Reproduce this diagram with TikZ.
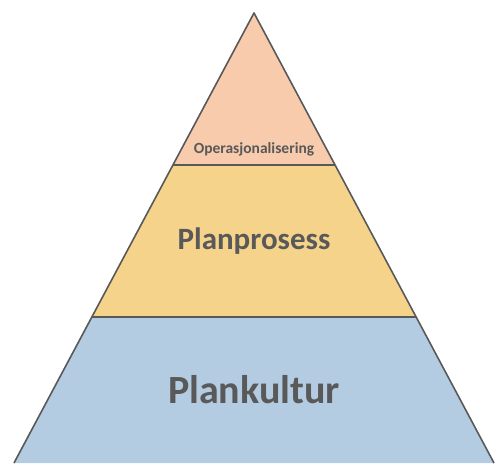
\documentclass[tikz,border=0pt]{standalone}
\usepackage{fontspec}
\setmainfont{Carlito}
\definecolor{topfill}{HTML}{F8CBAD}
\definecolor{midfill}{HTML}{F5D38A}
\definecolor{basefill}{HTML}{B3CCE2}
\definecolor{edgegray}{HTML}{595959}
\tikzset{
  layer/.style={draw=edgegray,line width=1.6pt,line join=round},
  label/.style={text=edgegray,font=\bfseries,inner sep=0pt}
}
\begin{document}
\begin{tikzpicture}[x=1pt,y=1pt]
		\useasboundingbox (0,0) rectangle (495,463);
		\coordinate (apex) at (254,450);
		\coordinate (L1) at (173,298);
		\coordinate (R1) at (335,298);
		\coordinate (L2) at (92,146);
		\coordinate (R2) at (416,146);
		\coordinate (L3) at (14,0);
		\coordinate (R3) at (494,0);

		% the three layers, base first
		\fill[basefill] (L2) -- (R2) -- (R3) -- (L3) -- cycle;
		\fill[midfill] (L1) -- (R1) -- (R2) -- (L2) -- cycle;
		\fill[topfill] (apex) -- (R1) -- (L1) -- cycle;
		\begin{scope}[layer]
		    \draw (L3) -- (apex) -- (R3);
		    \draw (L1) -- (R1);
		    \draw (L2) -- (R2);
		\end{scope}

		\node[label,font=\bfseries\fontsize{15.5}{18}\selectfont] (top) at (254,314) {Operasjonalisering};
		\node[label,font=\bfseries\fontsize{31}{36}\selectfont] (mid) at (254,222) {Planprosess};
		\node[label,font=\bfseries\fontsize{40}{46}\selectfont] (base) at (254,73) {Plankultur};
	    \end{tikzpicture}
\end{document}
